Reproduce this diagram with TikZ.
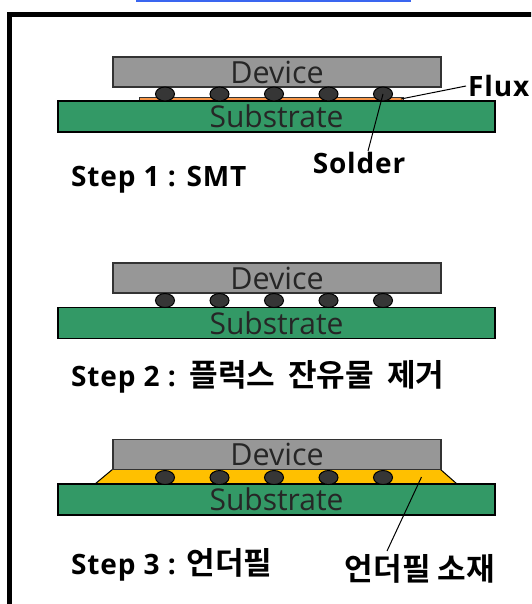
\documentclass[tikz,border=0pt]{standalone}
\usepackage{fontspec}
\setmainfont{Open Sans}[BoldFeatures={LetterSpace=3}]
\newfontfamily\kr{Noto Sans CJK KR}[BoldFont={Noto Sans CJK KR Bold}, Scale=1.11]
\usetikzlibrary{shapes.geometric}
\definecolor{devgray}{HTML}{979797}
\definecolor{subgreen}{HTML}{339966}
\definecolor{balldark}{HTML}{363636}
\definecolor{fluxorange}{HTML}{F79646}
\definecolor{ufyellow}{HTML}{FFC000}
\definecolor{barblue}{HTML}{3A66F0}
\tikzset{
  device/.style={draw=black!80, line width=1.2pt, fill=devgray, minimum width=328pt, minimum height=30pt, inner sep=0pt, font=\fontsize{30.5}{30}\selectfont, text=black!85},
  substrate/.style={draw=black, line width=1.6pt, fill=subgreen, minimum width=437pt, minimum height=31pt, inner sep=0pt, font=\fontsize{30}{30}\selectfont, text=black!85},
  ball/.style={ellipse, draw=black, line width=1pt, fill=balldark, minimum width=19pt, minimum height=14pt, inner sep=0pt},
  steplabel/.style={font=\bfseries\fontsize{28}{28}\selectfont, anchor=west, inner sep=0pt},
  partlabel/.style={font=\bfseries\fontsize{28}{28}\selectfont, inner sep=0pt},
  leader/.style={draw=black, line width=1pt}
}
\begin{document}
\begin{tikzpicture}[x=1pt,y=-1pt]
\useasboundingbox (0,0) rectangle (531,604);
\begin{scope}
\clip (0,0) rectangle (531,604);
\fill[barblue] (136,0) rectangle (411,2.5);
\draw[line width=5pt] (9.5,14.5) rectangle (560,640);
\end{scope}

% ---------- Step 1 ----------
\node[draw=black!80, line width=0.8pt, fill=fluxorange, minimum width=264pt, minimum height=4pt, inner sep=0pt] (flux) at (271.5,99) {};
\node[substrate] (sub1) at (276.5,116.5) {Substrate};
\node[device] (dev1) at (277,72) {Device};
\foreach \i/\x in {1/165,2/219.5,3/274,4/328.5,5/383}{
  \node[ball] (b1\i) at (\x,94) {};
}
\node[partlabel, anchor=west] (fluxlbl) at (468,86) {Flux};
\node[partlabel] (solderlbl) at (359,163) {Solder};
\coordinate (fluxend) at ([xshift=-3pt]flux.east);
\draw[leader] (fluxend) -- ([xshift=-2pt]fluxlbl.west);
\coordinate (solderend) at (368,151);
\draw[leader] (b15.center) -- (solderend);
\node[steplabel] (step1) at (71,180) {Step 1 : SMT};

% ---------- Step 2 ----------
\node[substrate] (sub2) at (276.5,323) {Substrate};
\node[device] (dev2) at (277,278) {Device};
\foreach \i/\x in {1/165,2/219.5,3/274,4/328.5,5/383}{
  \node[ball] (b2\i) at (\x,300.5) {};
}
\node[steplabel] (step2) at (71,377) {Step 2 :\hspace{3pt} {\kr 플럭스\hspace{13pt}잔유물\hspace{13pt}제거}};

% ---------- Step 3 ----------
\coordinate (ufbl) at (95,484);
\coordinate (ufbr) at (457,484);
\coordinate (uftl) at (113,469);
\coordinate (uftr) at (440,469);
\fill[ufyellow] (ufbl) -- (uftl) -- (uftr) -- (ufbr) -- cycle;
\draw[line width=1pt] (ufbl) -- (uftl);
\draw[line width=1pt] (ufbr) -- (uftr);
\node[substrate] (sub3) at (276.5,499.5) {Substrate};
\node[device] (dev3) at (277,454.5) {Device};
\foreach \i/\x in {1/165,2/219.5,3/274,4/328.5,5/383}{
  \node[ball] (b3\i) at (\x,477.5) {};
}
\coordinate (ufpoint) at (421.5,477);
\node[partlabel, font=\bfseries\kr\fontsize{28}{28}\selectfont] (uflbl) at (420,569) {언더필 소재};
\coordinate (ufend) at (387,551);
\draw[leader] (ufpoint) -- (ufend);
\node[steplabel] (step3) at (71,565) {Step 3 : {\kr 언더필}};
\end{tikzpicture}
\end{document}
